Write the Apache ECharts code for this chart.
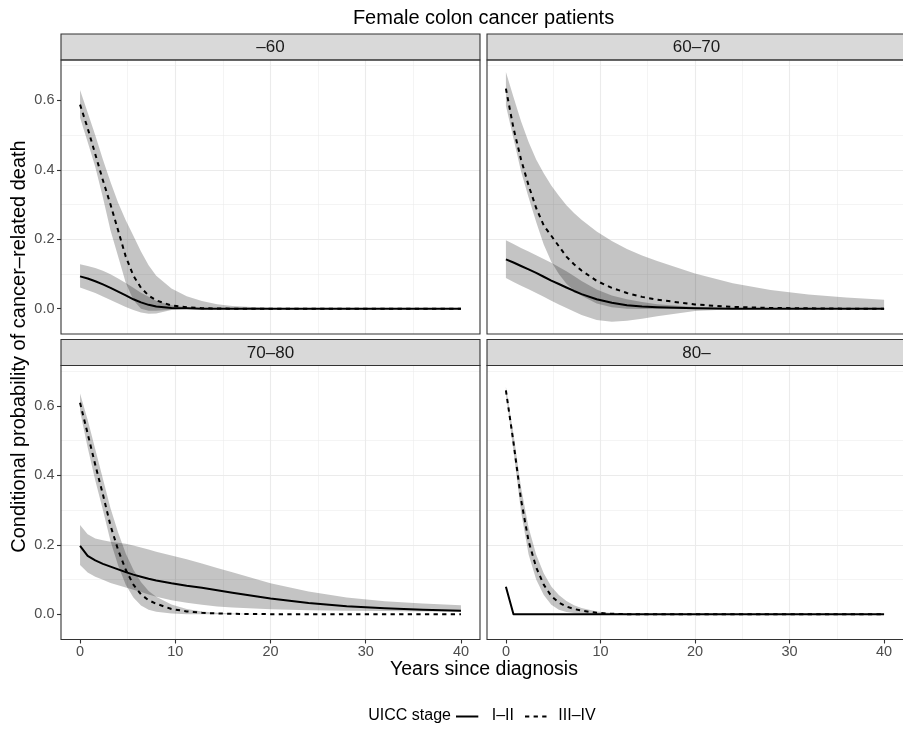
<!DOCTYPE html>
<html><head><meta charset="utf-8">
<script src="https://cdn.jsdelivr.net/npm/echarts@6/dist/echarts.min.js"></script>
<style>html,body{margin:0;padding:0;background:#fff;}#chart{width:903px;height:729px;}</style>
</head><body><div id="chart"></div>
<script>
// ---------- data ----------
const years = [0, 0.8, 1.6, 2.4, 3.2, 4, 4.8, 5.6, 6.4, 7.2, 8, 9.6, 11.2, 12.8, 14.4, 16, 20, 24, 28, 32, 36, 40];
const ageGroups = ['–60', '60–70', '70–80', '80–'];
const stages = ['I–II', 'III–IV'];
const xTicks = [0, 10, 20, 30, 40];
const yTicks = [0, 0.2, 0.4, 0.6];

// age -60
const fitI_a60  = [0.093,0.087,0.079,0.070,0.060,0.049,0.038,0.027,0.018,0.011,0.006,0.002,0.001,0,0,0,0,0,0,0,0,0];
const loI_a60   = [0.061,0.053,0.045,0.035,0.025,0.015,0.005,-0.004,-0.011,-0.015,-0.014,-0.004,-0.001,0,0,0,0,0,0,0,0,0];
const hiI_a60   = [0.128,0.123,0.117,0.109,0.099,0.087,0.074,0.060,0.046,0.034,0.023,0.010,0.004,0.001,0,0,0,0,0,0,0,0];
const fitIII_a60 = [0.588,0.520,0.445,0.370,0.300,0.225,0.150,0.095,0.060,0.038,0.024,0.009,0.004,0.0015,0.0005,0,0,0,0,0,0,0];
const loIII_a60  = [0.550,0.480,0.408,0.320,0.225,0.150,0.075,0.025,0.000,-0.006,-0.006,-0.003,-0.001,0,0,0,0,0,0,0,0,0];
const hiIII_a60  = [0.630,0.565,0.500,0.430,0.365,0.305,0.255,0.210,0.165,0.125,0.095,0.058,0.036,0.022,0.013,0.008,0.002,0.001,0,0,0,0];
// age 60-70
const fitI_a6070  = [0.142,0.133,0.123,0.113,0.103,0.092,0.081,0.071,0.061,0.051,0.042,0.027,0.017,0.010,0.006,0.004,0.001,0,0,0,0,0];
const loI_a6070   = [0.088,0.077,0.066,0.056,0.045,0.034,0.023,0.012,0.002,-0.008,-0.018,-0.033,-0.038,-0.035,-0.029,-0.022,-0.007,-0.002,0,0,0,0];
const hiI_a6070   = [0.197,0.186,0.175,0.165,0.154,0.143,0.132,0.120,0.108,0.094,0.080,0.055,0.038,0.027,0.019,0.013,0.005,0.002,0.001,0,0,0];
const fitIII_a6070 = [0.634,0.520,0.430,0.355,0.290,0.240,0.210,0.180,0.150,0.128,0.110,0.080,0.060,0.045,0.034,0.026,0.012,0.005,0.002,0.001,0,0];
const loIII_a6070  = [0.585,0.490,0.395,0.320,0.250,0.185,0.135,0.100,0.072,0.052,0.037,0.015,0.004,0,-0.001,-0.001,0,0,0,0,0,0];
const hiIII_a6070  = [0.682,0.610,0.540,0.480,0.430,0.390,0.355,0.325,0.298,0.276,0.256,0.222,0.195,0.172,0.153,0.137,0.101,0.073,0.054,0.041,0.032,0.026];
// age 70-80
const fitI_a7080  = [0.197,0.168,0.155,0.145,0.137,0.129,0.121,0.114,0.108,0.102,0.097,0.089,0.082,0.076,0.069,0.062,0.045,0.032,0.023,0.017,0.013,0.010];
const loI_a7080   = [0.142,0.120,0.108,0.099,0.090,0.083,0.077,0.070,0.064,0.057,0.050,0.040,0.033,0.027,0.022,0.019,0.014,0.011,0.010,0.009,0.008,0.008];
const hiI_a7080   = [0.257,0.230,0.218,0.213,0.209,0.206,0.203,0.198,0.192,0.186,0.180,0.169,0.158,0.146,0.133,0.121,0.089,0.065,0.048,0.037,0.031,0.026];
const fitIII_a7080 = [0.609,0.520,0.430,0.345,0.255,0.185,0.128,0.085,0.057,0.040,0.030,0.015,0.008,0.004,0.002,0.001,0,0,0,0,0,0];
const loIII_a7080  = [0.585,0.480,0.385,0.300,0.210,0.140,0.085,0.048,0.025,0.013,0.007,0.002,0,0,0,0,0,0,0,0,0,0];
const hiIII_a7080  = [0.636,0.560,0.475,0.390,0.305,0.235,0.175,0.128,0.093,0.067,0.050,0.028,0.015,0.008,0.004,0.002,0,0,0,0,0,0];
// age 80-
const fitI_a80  = [0.079,0,0,0,0,0,0,0,0,0,0,0,0,0,0,0,0,0,0,0,0,0];
const loI_a80   = [0.079,0,0,0,0,0,0,0,0,0,0,0,0,0,0,0,0,0,0,0,0,0];
const hiI_a80   = [0.079,0,0,0,0,0,0,0,0,0,0,0,0,0,0,0,0,0,0,0,0,0];
const fitIII_a80 = [0.645,0.495,0.330,0.210,0.135,0.085,0.052,0.033,0.022,0.015,0.010,0.004,0.001,0,0,0,0,0,0,0,0,0];
const loIII_a80  = [0.635,0.470,0.295,0.172,0.100,0.055,0.027,0.013,0.006,0.003,0.001,0,0,0,0,0,0,0,0,0,0,0];
const hiIII_a80  = [0.655,0.520,0.365,0.250,0.172,0.118,0.080,0.055,0.038,0.026,0.018,0.008,0.003,0.001,0,0,0,0,0,0,0,0];

const panels = [
  {I: [fitI_a60, loI_a60, hiI_a60], III: [fitIII_a60, loIII_a60, hiIII_a60]},
  {I: [fitI_a6070, loI_a6070, hiI_a6070], III: [fitIII_a6070, loIII_a6070, hiIII_a6070]},
  {I: [fitI_a7080, loI_a7080, hiI_a7080], III: [fitIII_a7080, loIII_a7080, hiIII_a7080]},
  {I: [fitI_a80, loI_a80, hiI_a80], III: [fitIII_a80, loIII_a80, hiIII_a80]}
];

// ---------- layout ----------
const FONT = "'Liberation Sans', Arial, Helvetica, sans-serif";
const boxes = [
  {left: 61, top: 60}, {left: 487, top: 60},
  {left: 61, top: 365.5}, {left: 487, top: 365.5}
];
const PW = 419, PH = 274, STRIP = 26;
const XMIN = -2, XMAX = 42, YMIN = -0.073, YMAX = 0.7165;
const GRID = '#EBEBEB', BORDER = '#333333';
const RIBBON = 'rgba(0,0,0,0.23)';
const DASH = [4.3, 4.3];

const grids = [], xAxes = [], yAxes = [], series = [], graphics = [];

boxes.forEach((b, i) => {
  const bottomRow = i >= 2, leftCol = i % 2 === 0;
  grids.push({left: b.left, top: b.top, width: PW, height: PH, show: false, containLabel: false});
  xAxes.push({
    type: 'value', gridIndex: i, position: 'bottom', min: XMIN, max: XMAX, splitNumber: 5,
    axisLine: {show: false, onZero: false},
    axisTick: {show: bottomRow, customValues: xTicks, length: 4, lineStyle: {color: BORDER, width: 1.1}},
    axisLabel: {show: bottomRow, customValues: xTicks, margin: 5, color: '#4D4D4D', fontSize: 14.5, fontFamily: FONT,
      formatter: v => (xTicks.indexOf(v) >= 0 ? String(v) : '')},
    splitLine: {show: true, showMinLine: false, showMaxLine: false, lineStyle: {color: GRID, width: 1.1}},
    minorTick: {show: false, splitNumber: 2},
    minorSplitLine: {show: true, lineStyle: {color: GRID, width: 0.55}}
  });
  yAxes.push({
    type: 'value', gridIndex: i, position: 'left', min: YMIN, max: YMAX, splitNumber: 4,
    axisLine: {show: false, onZero: false},
    axisTick: {show: leftCol, customValues: yTicks, length: 4, lineStyle: {color: BORDER, width: 1.1}},
    axisLabel: {show: leftCol, customValues: yTicks, margin: 6.5, color: '#4D4D4D', fontSize: 14.5, fontFamily: FONT,
      formatter: v => (yTicks.some(t => Math.abs(t - v) < 1e-9) ? v.toFixed(1) : '')},
    splitLine: {show: true, showMinLine: false, showMaxLine: false, lineStyle: {color: GRID, width: 1.1}},
    minorTick: {show: false, splitNumber: 2},
    minorSplitLine: {show: true, lineStyle: {color: GRID, width: 0.55}}
  });

  const p = panels[i];
  ['I', 'III'].forEach((k, si) => {
    const [fit, lo, hi] = p[k];
    const pts = years.map((x, j) => [x, lo[j], hi[j]]);
    series.push({
      type: 'custom', name: stages[si] + ' band', xAxisIndex: i, yAxisIndex: i, silent: true, z: 2,
      data: pts, encode: {x: 0, y: [1, 2]},
      renderItem: function (params, api) {
        if (params.dataIndex !== 0) return;
        const top = pts.map(q => api.coord([q[0], q[2]]));
        const bot = pts.slice().reverse().map(q => api.coord([q[0], q[1]]));
        return {type: 'polygon', shape: {points: top.concat(bot)}, style: {fill: RIBBON, stroke: null}};
      }
    });
  });
  [['I', 'solid'], ['III', DASH]].forEach(([k, dash], si) => {
    const fit = p[k][0];
    series.push({
      type: 'line', name: stages[si], xAxisIndex: i, yAxisIndex: i, z: 3,
      data: years.map((x, j) => [x, fit[j]]),
      showSymbol: false, symbol: 'none', silent: true, animation: false,
      lineStyle: {color: '#000', width: 2, type: dash, cap: 'butt', join: 'round'}
    });
  });

  // strip
  graphics.push({type: 'rect', shape: {x: b.left, y: b.top - STRIP, width: PW, height: STRIP},
    style: {fill: '#D9D9D9', stroke: BORDER, lineWidth: 1.1}, z: 10});
  graphics.push({type: 'text', x: b.left + PW / 2, y: b.top - STRIP / 2 + 0.5, z: 11,
    style: {text: ageGroups[i], fill: '#1A1A1A', font: '17px ' + FONT, textAlign: 'center', textVerticalAlign: 'middle'}});
  // panel border
  graphics.push({type: 'rect', shape: {x: b.left, y: b.top, width: PW, height: PH},
    style: {fill: null, stroke: BORDER, lineWidth: 1.1}, z: 10});
});

// titles
graphics.push({type: 'text', x: 483.5, y: 18.5, z: 11,
  style: {text: 'Female colon cancer patients', fill: '#000', font: '20px ' + FONT, textAlign: 'center', textVerticalAlign: 'middle'}});
graphics.push({type: 'text', x: 484, y: 670, z: 11,
  style: {text: 'Years since diagnosis', fill: '#000', font: '19.5px ' + FONT, textAlign: 'center', textVerticalAlign: 'middle'}});
graphics.push({type: 'text', x: 19, y: 346.5, rotation: Math.PI / 2, z: 11,
  style: {text: 'Conditional probability of cancer–related death', fill: '#000', font: '20px ' + FONT, textAlign: 'center', textVerticalAlign: 'middle'}});

// legend
const LY = 715.5;
graphics.push({type: 'text', x: 368.3, y: LY, z: 11,
  style: {text: 'UICC stage', fill: '#000', font: '16px ' + FONT, textAlign: 'left', textVerticalAlign: 'middle'}});
graphics.push({type: 'line', shape: {x1: 456, y1: LY + 1, x2: 478.3, y2: LY + 1}, z: 11,
  style: {stroke: '#000', lineWidth: 2}});
graphics.push({type: 'text', x: 491.7, y: LY, z: 11,
  style: {text: stages[0], fill: '#000', font: '16px ' + FONT, textAlign: 'left', textVerticalAlign: 'middle'}});
graphics.push({type: 'line', shape: {x1: 525, y1: LY + 1, x2: 546.7, y2: LY + 1}, z: 11,
  style: {stroke: '#000', lineWidth: 2, lineDash: DASH}});
graphics.push({type: 'text', x: 558.3, y: LY, z: 11,
  style: {text: stages[1], fill: '#000', font: '16px ' + FONT, textAlign: 'left', textVerticalAlign: 'middle'}});

const chart = echarts.init(document.getElementById('chart'), null, {renderer: 'canvas'});
chart.setOption({
  backgroundColor: '#fff',
  animation: false,
  grid: grids, xAxis: xAxes, yAxis: yAxes, series: series,
  graphic: {elements: graphics}
});
</script></body></html>
